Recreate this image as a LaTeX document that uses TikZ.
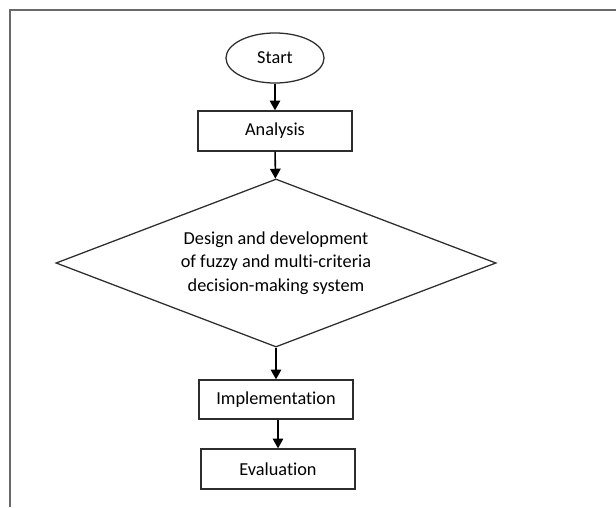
\documentclass[tikz,border=0pt]{standalone}
\usepackage{fontspec}
\setmainfont{Carlito}[Ligatures=NoCommon]
\usetikzlibrary{shapes.geometric,arrows.meta}
\definecolor{framegray}{RGB}{105,105,105}
\definecolor{linegray}{RGB}{45,45,45}
\begin{document}
\begin{tikzpicture}[>={Triangle[length=7pt,width=7.5pt]},x=0.025cm,y=-0.025cm,
	every node/.style={font=\fontsize{13}{16.7}\selectfont,text=black},
	startnode/.style={draw=linegray,ellipse,line width=0.9pt,minimum width=2.45cm,minimum height=1.25cm,inner sep=0pt},
	stepbox/.style={draw=linegray,rectangle,line width=0.9pt,minimum width=3.85cm,minimum height=1cm,inner sep=0pt},
	decide/.style={draw=linegray,diamond,line width=0.9pt,minimum width=11cm,minimum height=4.2cm,shape aspect=2.62,inner sep=0pt,align=center},
	flow/.style={->,line width=1.1pt,black}]
		\useasboundingbox (0,0) rectangle (616,507);
		\draw[framegray,line width=1.3pt] (10,507)--(10,10)--(616,10);
		\node[startnode] (start) at (275,58) {Start};
		\node[stepbox] (analysis) at (275,131) {Analysis};
		\node[decide] (design) at (276,263) {Design and development\\of fuzzy and multi-criteria\\decision-making system};
		\node[stepbox,minimum height=0.975cm] (impl) at (276,399.5) {Implementation};
		\node[stepbox] (eval) at (278,469) {Evaluation};
		\draw[flow] (start)--(analysis);
		\draw[flow] (analysis)--(design);
		\draw[flow] (design)--(impl);
		\draw[flow] (impl.south-|eval)--(eval);
\end{tikzpicture}
\end{document}
